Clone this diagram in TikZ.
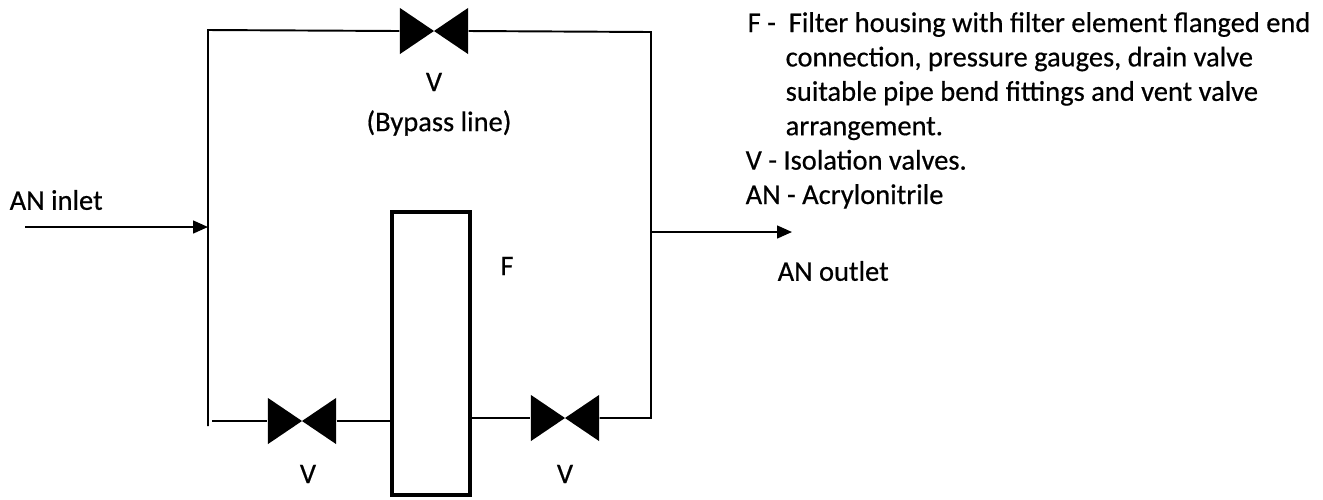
\documentclass[tikz,border=0pt]{standalone}
\usepackage{fontspec}
\setmainfont{Carlito}[FakeBold=0.5]
\usetikzlibrary{arrows.meta}
\tikzset{
    pipe/.style={line width=0.55pt},
    flow/.style={pipe,-{Triangle[length=4.2pt,width=3.6pt]}},
    valve/.style={minimum width=0.68cm,minimum height=0.46cm,inner sep=0pt,
        path picture={
            \fill (path picture bounding box.north west) -- (path picture bounding box.center)
                -- (path picture bounding box.south west) -- cycle;
            \fill (path picture bounding box.north east) -- (path picture bounding box.center)
                -- (path picture bounding box.south east) -- cycle;
        }},
    filterbox/.style={draw,line width=1.2pt,minimum width=0.78cm,minimum height=2.83cm,inner sep=0pt},
    tag/.style={inner sep=0pt}
}
\begin{document}
\begin{tikzpicture}[x=0.01cm,y=-0.01cm,font=\fontsize{8.1}{10}\selectfont]
    \useasboundingbox (0,0) rectangle (1323,499);
    %corners of the loop
    \coordinate (tl) at (208,30);
    \coordinate (tr) at (651,32);
    \coordinate (bl) at (208,426);
    \coordinate (bin) at (212,421);
    \coordinate (br) at (651,418);
    \coordinate (in) at (25,227);
    \coordinate (out) at (792,232);
    %valves and filter
    \node[valve] (vtop) at (434,31) {};
    \node[valve] (vleft) at (302,421) {};
    \node[valve] (vright) at (565,418) {};
    \node[filterbox] (filter) at (431,353.5) {};
    %draw lines
    \draw [pipe] (vtop.west) -- (tl) -- (bl);
    \draw [pipe] (vtop.east) -- (tr) -- (br) -- (vright.east);
    \draw [pipe] (bin) -- (vleft.west);
    \draw [pipe] (vleft.east) -- (vleft -| filter.west);
    \draw [pipe] (vright -| filter.east) -- (vright.west);
    \draw [flow] (in) -- (in -| tl);
    \draw [flow] (out -| tr) -- (out);
    %labels
    \node[tag] (ltop) at (434,82) {V};
    \node[tag] (lbypass) at (439,123) {(Bypass line)};
    \node[tag] (lleft) at (308,474) {V};
    \node[tag] (lright) at (565,474) {V};
    \node[tag] (lfilter) at (507,266) {F};
    \node[tag,anchor=west] (linlet) at (9,200) {AN inlet};
    \node[tag,anchor=west] (loutlet) at (777,271) {AN outlet};
    %legend
    \node[tag,anchor=base west] (key1) at (747,32) {F -\ \ Filter housing with filter element flanged end};
    \foreach \txt [count=\i] in {{connection, pressure gauges, drain valve},
        {suitable pipe bend fittings and vent valve}, {arrangement.}}
        {%
            \node[tag,anchor=base west] (key1\i) at (785,32+34.4*\i) {\txt};
        }
    \node[tag,anchor=base west] (key2) at (745,169.6) {V - Isolation valves.};
    \node[tag,anchor=base west] (key3) at (745,204) {AN - Acrylonitrile};
\end{tikzpicture}
\end{document}
